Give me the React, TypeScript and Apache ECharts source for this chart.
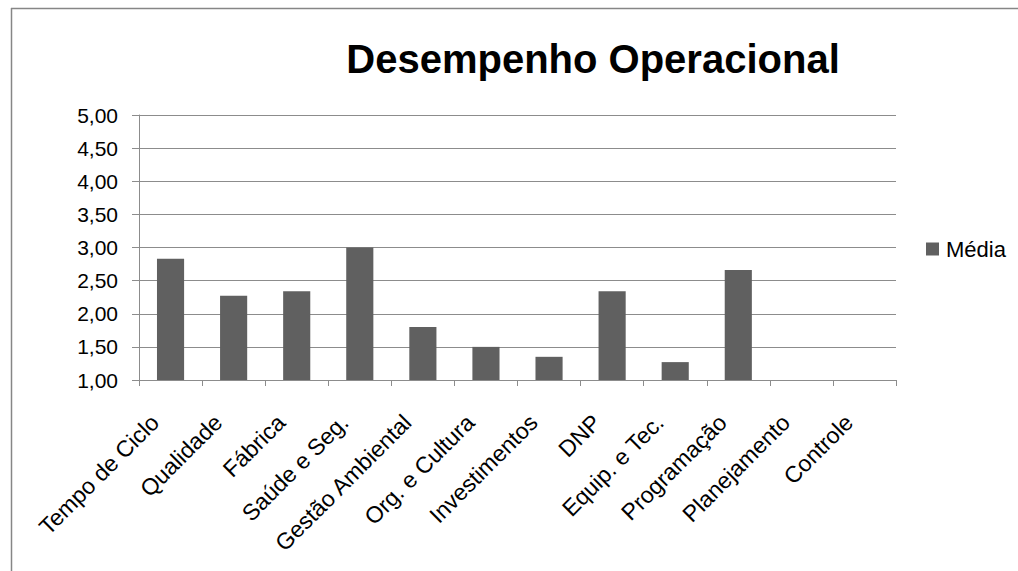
import React, { useEffect, useRef } from "react";
import * as echarts from "echarts";

const titleText = "Desempenho Operacional";
const seriesName = "Média";
const categories = [
  "Tempo de Ciclo",
  "Qualidade",
  "Fábrica",
  "Saúde e Seg.",
  "Gestão Ambiental",
  "Org. e Cultura",
  "Investimentos",
  "DNP",
  "Equip. e Tec.",
  "Programação",
  "Planejamento",
  "Controle",
];
const mediaValues: (number | null)[] = [2.83, 2.27, 2.34, 3.0, 1.8, 1.5, 1.35, 2.34, 1.27, 2.66, null, null];
const yMin = 1;
const yMax = 5;
const yStep = 0.5;

const FONT = "'Liberation Sans', Arial, sans-serif";

export default function App() {
  const ref = useRef<HTMLDivElement>(null);
  useEffect(() => {
    document.body.style.margin = "0";
    const chart = echarts.init(ref.current!, null, { renderer: "svg" });
    chart.setOption({
      animation: false,
      backgroundColor: "#ffffff",
      title: {
        text: titleText,
        left: 588,
        top: 34,
        textAlign: "center",
        textStyle: { fontFamily: FONT, fontSize: 40, fontWeight: "bold", color: "#000" },
      },
      legend: {
        left: 926,
        top: 238,
        padding: 0,
        icon: "rect",
        itemWidth: 13,
        itemHeight: 13,
        itemGap: 7,
        textStyle: { fontFamily: FONT, fontSize: 22, color: "#000", padding: [0, 0, 0, 2] },
        data: [seriesName],
      },
      grid: { left: 139, right: 122, top: 115, bottom: 191, containLabel: false },
      xAxis: {
        type: "category",
        data: categories,
        boundaryGap: true,
        axisLine: { show: true, lineStyle: { color: "#8c8c8c", width: 1 } },
        axisTick: { show: true, length: 6, alignWithLabel: false, lineStyle: { color: "#8c8c8c" } },
        axisLabel: {
          interval: 0,
          rotate: 45,
          margin: 23,
          padding: [0, 22, 0, 0],
          fontFamily: FONT,
          fontSize: 23,
          color: "#000",
        },
      },
      yAxis: {
        type: "value",
        min: yMin,
        max: yMax,
        interval: yStep,
        axisLine: { show: true, lineStyle: { color: "#8c8c8c", width: 1 } },
        axisTick: { show: true, length: 7, lineStyle: { color: "#8c8c8c" } },
        splitLine: { show: true, lineStyle: { color: "#8c8c8c", width: 1 } },
        axisLabel: {
          margin: 21,
          fontFamily: FONT,
          fontSize: 21,
          color: "#000",
          formatter: (v: number) => v.toFixed(2).replace(".", ","),
        },
      },
      series: [
        {
          name: seriesName,
          type: "bar",
          data: mediaValues,
          barCategoryGap: "57%",
          itemStyle: { color: "#606060" },
          clip: true,
        },
      ],
      graphic: [
        { type: "line", shape: { x1: 11, y1: 8.5, x2: 1018, y2: 8.5 }, style: { stroke: "#868686", lineWidth: 1.5 } },
        { type: "line", shape: { x1: 11.5, y1: 8, x2: 11.5, y2: 571 }, style: { stroke: "#868686", lineWidth: 1.5 } },
      ],
    });
    return () => chart.dispose();
  }, []);
  return <div ref={ref} style={{ width: 1018, height: 571 }} />;
}
